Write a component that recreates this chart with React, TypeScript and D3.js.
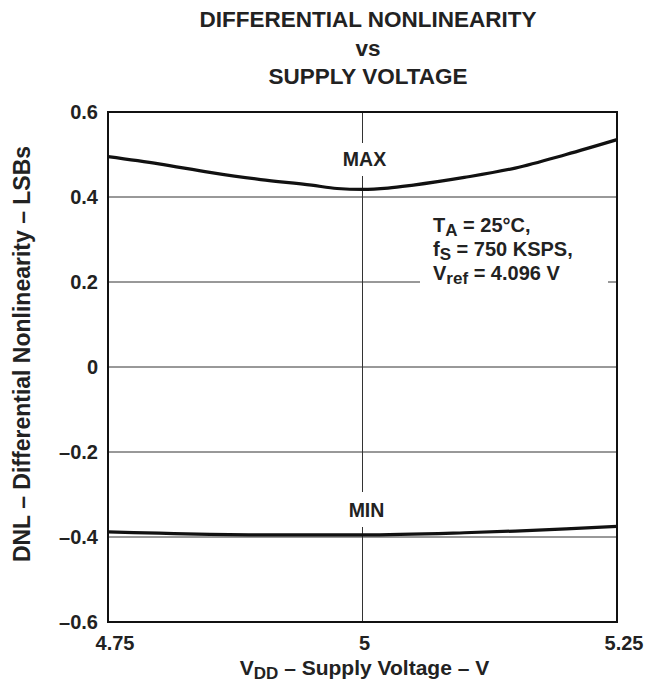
import * as d3 from "d3";
import React from "react";

// supply voltage (V)
const vddMax = [4.75, 4.8, 4.85, 4.9, 4.95, 4.975, 5.0, 5.025, 5.05, 5.1, 5.15, 5.2, 5.25];
const dnlMax = [0.495, 0.478, 0.458, 0.441, 0.428, 0.42, 0.418, 0.421, 0.428, 0.446, 0.468, 0.5, 0.535];

const vddMin = [4.75, 4.8, 4.85, 4.9, 5.0, 5.1, 5.15, 5.2, 5.25];
const dnlMin = [-0.388, -0.391, -0.394, -0.395, -0.395, -0.39, -0.386, -0.381, -0.375];

const xTicks = [4.75, 5, 5.25];
const xTickLabels = ["4.75", "5", "5.25"];
const yTicks = [-0.6, -0.4, -0.2, 0, 0.2, 0.4, 0.6];
const yTickLabels = ["\u20130.6", "\u20130.4", "\u20130.2", "0", "0.2", "0.4", "0.6"];

const W = 645;
const H = 682;
const margin = { top: 112, right: 28, bottom: 60, left: 108 };
const font = "'Liberation Sans', Arial, Helvetica, sans-serif";

export default function App() {
  const x = d3.scaleLinear().domain([4.75, 5.25]).range([margin.left, W - margin.right]);
  const y = d3.scaleLinear().domain([-0.6, 0.6]).range([H - margin.bottom, margin.top]);

  const line = d3
    .line<[number, number]>()
    .x((d) => x(d[0]))
    .y((d) => y(d[1]))
    .curve(d3.curveMonotoneX);

  const maxPts = vddMax.map((v, i) => [v, dnlMax[i]] as [number, number]);
  const minPts = vddMin.map((v, i) => [v, dnlMin[i]] as [number, number]);

  const x0 = x(4.75);
  const x1 = x(5.25);
  const y0 = y(-0.6);
  const y1 = y(0.6);
  const xc = x(5);

  return (
    <svg
      width={W}
      height={H}
      style={{ position: "absolute", left: 0, top: 0, background: "#fff" }}
      fontFamily={font}
      fontWeight="bold"
    >
      {/* title */}
      <g textAnchor="middle" fontSize={22.5} fill="#222">
        <text x={368} y={27}>DIFFERENTIAL NONLINEARITY</text>
        <text x={368} y={56}>vs</text>
        <text x={368} y={84}>SUPPLY VOLTAGE</text>
      </g>

      {/* gridlines */}
      <g stroke="#333" strokeWidth={1}>
        {yTicks.slice(1, -1).map((t) => (
          <line key={t} x1={x0} x2={x1} y1={y(t)} y2={y(t)} />
        ))}
        <line x1={xc} x2={xc} y1={y1} y2={y0} />
      </g>

      {/* label knockouts */}
      <rect x={338} y={143} width={54} height={33} fill="#fff" />
      <rect x={340} y={492} width={54} height={35} fill="#fff" />
      <rect x={420} y={210} width={188} height={84} fill="#fff" />

      {/* curves */}
      <path d={line(maxPts) ?? ""} fill="none" stroke="#111" strokeWidth={3.2} />
      <path d={line(minPts) ?? ""} fill="none" stroke="#111" strokeWidth={3.2} />

      {/* frame */}
      <rect x={x0} y={y1} width={x1 - x0} height={y0 - y1} fill="none" stroke="#111" strokeWidth={2} />

      {/* curve labels */}
      <g textAnchor="middle" fontSize={19.5} fill="#222">
        <text x={xc + 2} y={166}>MAX</text>
        <text x={xc + 4} y={517}>MIN</text>
      </g>

      {/* conditions */}
      <g fontSize={20} fill="#222">
        <text x={433} y={232}>
          T<tspan dy={4} fontSize={17}>A</tspan>
          <tspan dy={-4}> = 25°C,</tspan>
        </text>
        <text x={433} y={256}>
          f<tspan dy={4} fontSize={17}>S</tspan>
          <tspan dy={-4}> = 750 KSPS,</tspan>
        </text>
        <text x={433} y={280}>
          V<tspan dy={4} fontSize={17}>ref</tspan>
          <tspan dy={-4}> = 4.096 V</tspan>
        </text>
      </g>

      {/* y tick labels */}
      <g textAnchor="end" fontSize={20} fill="#222">
        {yTicks.map((t, i) => (
          <text key={t} x={margin.left - 10} y={y(t) + 7}>
            {yTickLabels[i]}
          </text>
        ))}
      </g>

      {/* x tick labels */}
      <g textAnchor="middle" fontSize={20} fill="#222">
        {xTicks.map((t, i) => (
          <text key={t} x={x(t) + (i === 1 ? 2 : 7)} y={650}>
            {xTickLabels[i]}
          </text>
        ))}
      </g>

      {/* axis titles */}
      <text x={xc + 2} y={675} textAnchor="middle" fontSize={21} fill="#222">
        V<tspan dy={4} fontSize={17}>DD</tspan>
        <tspan dy={-4}> – Supply Voltage – V</tspan>
      </text>
      <text
        transform={`translate(30,354) rotate(-90)`}
        textAnchor="middle"
        fontSize={23}
        fill="#222"
      >
        DNL – Differential Nonlinearity – LSBs
      </text>
    </svg>
  );
}
